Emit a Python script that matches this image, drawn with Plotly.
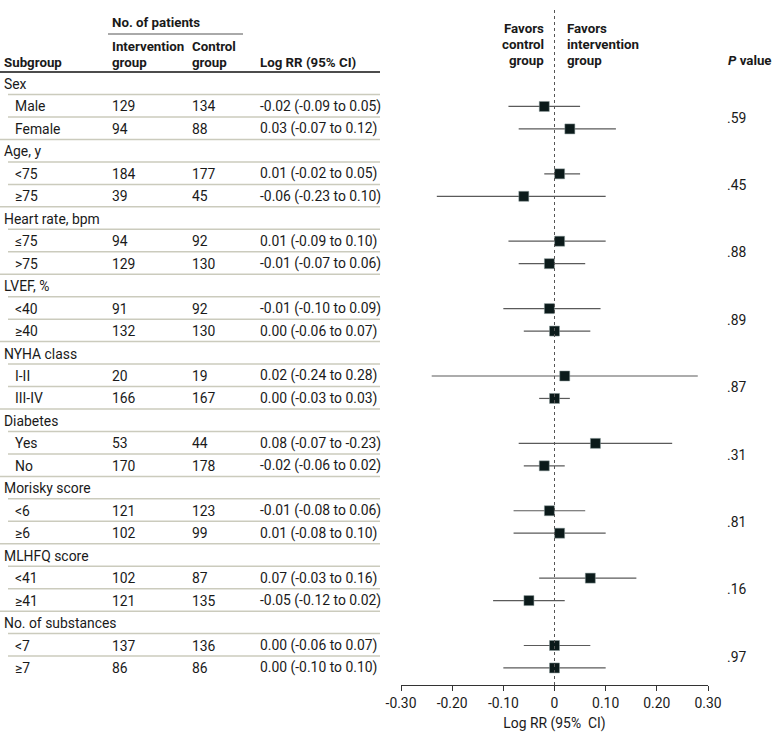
import plotly.graph_objects as go

# data
groups = ["Sex", "Age, y", "Heart rate, bpm", "LVEF, %", "NYHA class",
          "Diabetes", "Morisky score", "MLHFQ score", "No. of substances"]
subgroups = ["Male", "Female", "<75", "≥75", "≤75", ">75", "<40", "≥40",
             "I-II", "III-IV", "Yes", "No", "<6", "≥6", "<41", "≥41", "<7", "≥7"]
n_intervention = [129, 94, 184, 39, 94, 129, 91, 132, 20, 166, 53, 170, 121, 102, 102, 121, 137, 86]
n_control = [134, 88, 177, 45, 92, 130, 92, 130, 19, 167, 44, 178, 123, 99, 87, 135, 136, 86]
log_rr = [-0.02, 0.03, 0.01, -0.06, 0.01, -0.01, -0.01, 0.00, 0.02, 0.00,
          0.08, -0.02, -0.01, 0.01, 0.07, -0.05, 0.00, 0.00]
ci_low = [-0.09, -0.07, -0.02, -0.23, -0.09, -0.07, -0.10, -0.06, -0.24, -0.03,
          -0.07, -0.06, -0.08, -0.08, -0.03, -0.12, -0.06, -0.10]
ci_high = [0.05, 0.12, 0.05, 0.10, 0.10, 0.06, 0.09, 0.07, 0.28, 0.03,
           0.23, 0.02, 0.06, 0.10, 0.16, 0.02, 0.07, 0.10]
# text column as printed (includes the source's typo for Diabetes "Yes")
rr_text = ["-0.02 (-0.09 to 0.05)", "0.03 (-0.07 to 0.12)", "0.01 (-0.02 to 0.05)",
           "-0.06 (-0.23 to 0.10)", "0.01 (-0.09 to 0.10)", "-0.01 (-0.07 to 0.06)",
           "-0.01 (-0.10 to 0.09)", "0.00 (-0.06 to 0.07)", "0.02 (-0.24 to 0.28)",
           "0.00 (-0.03 to 0.03)", "0.08 (-0.07 to -0.23)", "-0.02 (-0.06 to 0.02)",
           "-0.01 (-0.08 to 0.06)", "0.01 (-0.08 to 0.10)", "0.07 (-0.03 to 0.16)",
           "-0.05 (-0.12 to 0.02)", "0.00 (-0.06 to 0.07)", "0.00 (-0.10 to 0.10)"]
p_values = [".59", ".45", ".88", ".89", ".87", ".31", ".81", ".16", ".97"]
tick_vals = [-0.3, -0.2, -0.1, 0, 0.1, 0.2, 0.3]
tick_text = ["-0.30", "-0.20", "-0.10", "0", "0.10", "0.20", "0.30"]

W, H = 780, 742
FONT = "Roboto, Arial, sans-serif"
FS = 13.9
TXT = "#1a1a1a"
ROW0, ROWH = 84, 22.46  # pixel y of first row and row height


def px(x):
    return x / W


def row(y):
    return (y - ROW0) / ROWH


sub_rows = []
for i in range(len(groups)):
    sub_rows += [3 * i + 1, 3 * i + 2]

fig = go.Figure()
fig.add_trace(go.Scatter(
    x=log_rr, y=sub_rows, mode="markers",
    error_x=dict(type="data", symmetric=False,
                 array=[h - m for h, m in zip(ci_high, log_rr)],
                 arrayminus=[m - l for m, l in zip(log_rr, ci_low)],
                 width=0, thickness=1.2, color="#5a5a5a"),
    marker=dict(symbol="square", size=10, color="#0b1a1a",
                line=dict(color="#8a9a9a", width=0.5)),
    hoverinfo="skip", showlegend=False))

ann = []


def text(x, y, s, anchor="left", bold=False, size=FS):
    if bold:
        s = "<b>" + s + "</b>"
    ann.append(dict(x=px(x), y=y, xref="paper", yref="y", text=s, showarrow=False,
                    xanchor=anchor, yanchor="middle",
                    font=dict(family=FONT, size=size, color=TXT)))


# headers
HB = 13.3
text(110, row(22), "No. of patients", bold=True, size=HB)
text(110, row(46), "Intervention", bold=True, size=HB)
text(110, row(62), "group", bold=True, size=HB)
text(190, row(46), "Control", bold=True, size=HB)
text(190, row(62), "group", bold=True, size=HB)
text(2, row(62), "Subgroup", bold=True, size=HB)
text(258, row(62), "Log RR (95% CI)", bold=True, size=HB)
for s, y in zip(["Favors", "control", "group"], [28, 44, 60]):
    text(546, row(y), s, anchor="right", bold=True, size=HB)
for s, y in zip(["Favors", "intervention", "group"], [28, 44, 60]):
    text(565, row(y), s, bold=True, size=HB)
text(726, row(60), "<i>P</i> value", bold=True, size=HB)

shapes = [
    dict(type="line", xref="paper", yref="y", x0=px(108), x1=px(243),
         y0=row(34), y1=row(34), line=dict(color="#555", width=1)),
    dict(type="line", xref="paper", yref="y", x0=0, x1=px(380),
         y0=row(72), y1=row(72), line=dict(color="#111", width=1.6)),
    dict(type="line", xref="x", yref="y", x0=0, x1=0, y0=row(10), y1=row(685),
         line=dict(color="#555", width=1, dash="dot")),
]

for i, g in enumerate(groups):
    r = 3 * i
    text(2, r, g)
    for k in range(2):
        j = 2 * i + k
        rr = r + 1 + k
        text(13, rr, subgroups[j])
        text(110, rr, str(n_intervention[j]))
        text(190, rr, str(n_control[j]))
        text(258, rr, rr_text[j])
    text(725, r + 1.5, p_values[i])
    sep = [(r + 0.47, 8), (r + 1.47, 8)]
    if i < len(groups) - 1:
        sep.append((r + 2.47, 0))
    for y, x0 in sep:
        shapes.append(dict(type="line", xref="paper", yref="y", x0=px(x0), x1=px(380),
                           y0=y, y1=y, line=dict(color="#cbcbbd", width=1.5)))

fig.update_layout(
    template="none",
    width=W, height=H, margin=dict(l=0, r=0, t=0, b=H - 685, pad=0),
    paper_bgcolor="white", plot_bgcolor="white",
    font=dict(family=FONT, size=FS, color=TXT),
    annotations=ann, shapes=shapes,
    xaxis=dict(domain=[px(401), px(708)], range=[-0.3, 0.3], automargin=False,
               tickvals=tick_vals, ticktext=tick_text,
               showline=True, linecolor="#333", linewidth=1,
               ticks="outside", ticklen=5, tickcolor="#333",
               showgrid=False, zeroline=False,
               tickfont=dict(family=FONT, size=FS, color=TXT),
               title=dict(text="Log RR (95%  CI)", standoff=8,
                          font=dict(family=FONT, size=FS, color=TXT))),
    yaxis=dict(range=[row(685), row(0)], visible=False, fixedrange=True,
               automargin=False),
)

# drop the default 8px page margin so the figure sits at the window's corner
fig.write_html("out.html", config={"displayModeBar": False},
               post_script="document.body.style.margin='0';")
